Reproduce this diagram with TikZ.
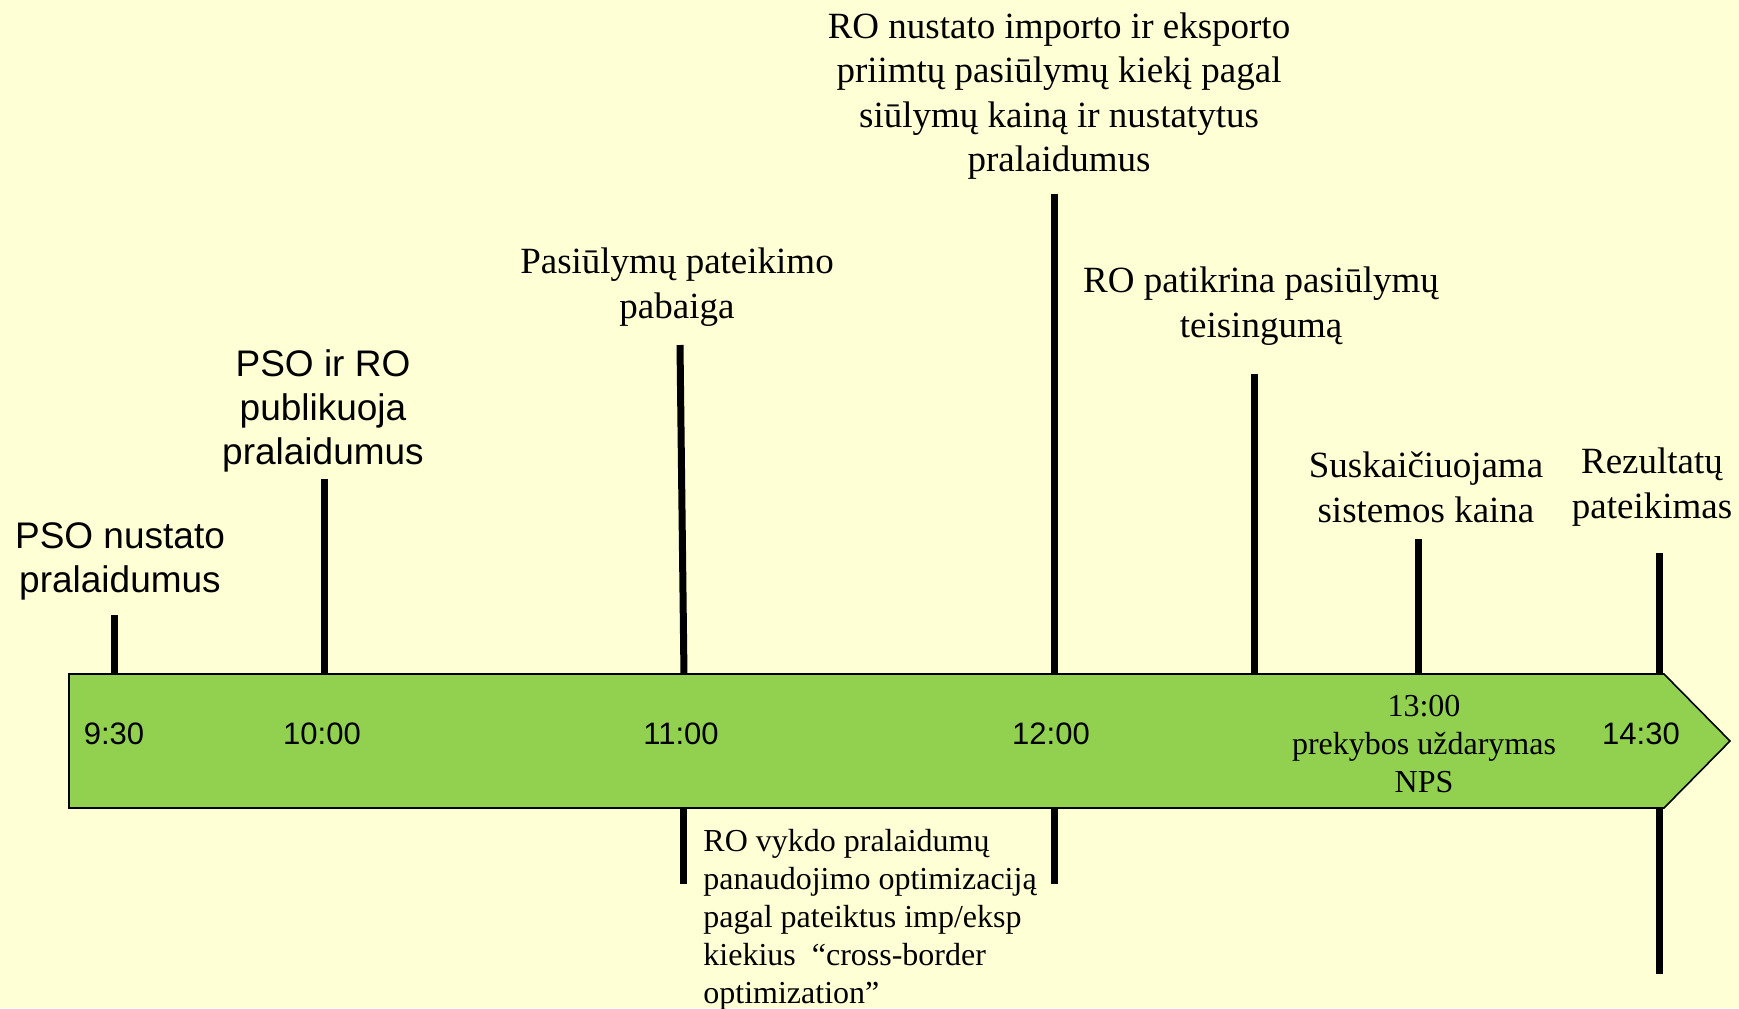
\documentclass[tikz,border=0pt]{standalone}
\usepackage{fontspec}
\setmainfont{Liberation Serif}
\setsansfont{Liberation Sans}
\definecolor{bgyellow}{HTML}{FFFFD6}
\definecolor{bargreen}{HTML}{92D050}
\begin{document}
\begin{tikzpicture}[x=0.5pt,y=-0.5pt,
  serifbig/.style={font=\fontsize{18.5}{22.3}\selectfont, align=center, inner sep=0pt},
  sansbig/.style={font=\sffamily\fontsize{18.5}{22}\selectfont, align=center, inner sep=0pt},
  seriflow/.style={font=\fontsize{16}{19}\selectfont, inner sep=0pt},
  timelabel/.style={font=\sffamily\fontsize{15.5}{18}\selectfont, inner sep=0pt},
  tickline/.style={line width=3.5pt}]
\fill[bgyellow] (0,0) rectangle (1739,1008);
\useasboundingbox (0,0) rectangle (1739,1008);

% tick coordinates
\coordinate (a1) at (114,615);  \coordinate (a2) at (114,676);
\coordinate (b1) at (324,479);  \coordinate (b2) at (324,676);
\coordinate (c1) at (680,345);  \coordinate (c2) at (684,676);
\coordinate (c3) at (683,806);  \coordinate (c4) at (683,884);
\coordinate (d1) at (1054,194); \coordinate (d2) at (1054,676);
\coordinate (d3) at (1054,806); \coordinate (d4) at (1054,884);
\coordinate (e1) at (1254,374); \coordinate (e2) at (1254,676);
\coordinate (f1) at (1418,539); \coordinate (f2) at (1418,676);
\coordinate (g1) at (1659,553); \coordinate (g2) at (1659,676);
\coordinate (g3) at (1659,806); \coordinate (g4) at (1659,974);

\draw[tickline] (a1) -- (a2);
\draw[tickline] (b1) -- (b2);
\draw[tickline] (c1) -- (c2);
\draw[tickline] (c3) -- (c4);
\draw[tickline] (d1) -- (d2);
\draw[tickline] (d3) -- (d4);
\draw[tickline] (e1) -- (e2);
\draw[tickline] (f1) -- (f2);
\draw[tickline] (g1) -- (g2);
\draw[tickline] (g3) -- (g4);

% timeline arrow
\draw[fill=bargreen, draw=black, line width=0.8pt]
  (69,674) -- (1664,674) -- (1730,741) -- (1664,808) -- (69,808) -- cycle;

% time labels
\node[timelabel] (t930) at (114,734) {9:30};
\node[timelabel] (t1000) at (322,734) {10:00};
\node[timelabel] (t1100) at (681,734) {11:00};
\node[timelabel] (t1200) at (1051,734) {12:00};
\node[timelabel] (t1430) at (1641,734) {14:30};
\node[seriflow, align=center] (nps) at (1424,744) {13:00\\prekybos uždarymas\\NPS};

% event labels
\node[sansbig] (pso1) at (120,561) {PSO nustato\\pralaidumus};
\node[sansbig] (pso2) at (323,411) {PSO ir RO\\publikuoja\\pralaidumus};
\node[serifbig] (pas) at (677,287) {Pasiūlymų pateikimo\\pabaiga};
\node[serifbig] (ro1) at (1059,96) {RO nustato importo ir eksporto\\priimtų pasiūlymų kiekį pagal\\siūlymų kainą ir nustatytus\\pralaidumus};
\node[serifbig] (ro2) at (1261,306) {RO patikrina pasiūlymų\\teisingumą};
\node[serifbig] (susk) at (1426,487) {Suskaičiuojama\\sistemos kaina};
\node[serifbig] (rez) at (1652,487) {Rezultatų\\pateikimas};
\node[seriflow, align=left, anchor=west] (opt) at (703,920) {RO vykdo pralaidumų\\panaudojimo optimizaciją\\pagal pateiktus imp/eksp\\kiekius~ “cross-border\\optimization”};
\end{tikzpicture}
\end{document}
